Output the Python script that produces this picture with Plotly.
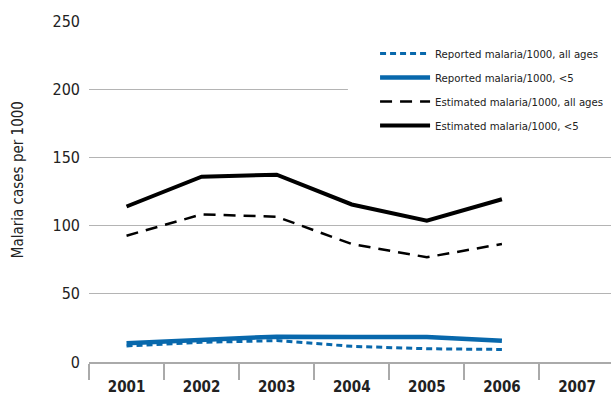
import plotly.graph_objects as go

years = ["2001", "2002", "2003", "2004", "2005", "2006", "2007"]
rep_all = [11.8, 14.4, 15.7, 11.5, 9.7, 9.2]
rep_u5 = [13.8, 16.5, 18.6, 18.4, 18.4, 15.6]
est_all = [92.6, 108.2, 106.5, 86.5, 76.8, 86.5]
est_u5 = [114.0, 135.9, 137.3, 115.5, 103.6, 119.3]
y_ticks = [0, 50, 100, 150, 200, 250]

FONT = "DejaVu Sans Condensed, DejaVu Sans, sans-serif"
BLUE = "#0868ac"

fig = go.Figure()

fig.add_trace(go.Scatter(x=years[:6], y=rep_all, mode="lines", legendgroup="a",
                         name="Reported malaria/1000, all ages",
                         line=dict(color=BLUE, width=3, dash="6px,4px")))
fig.add_trace(go.Scatter(x=years[:6], y=rep_u5, mode="lines", legendgroup="b",
                         name="Reported malaria/1000, &lt;5",
                         line=dict(color=BLUE, width=4.5)))
fig.add_trace(go.Scatter(x=years[:6], y=est_all, mode="lines", legendgroup="c",
                         name="Estimated malaria/1000, all ages",
                         line=dict(color="black", width=2.5, dash="12px,8px")))
fig.add_trace(go.Scatter(x=years[:6], y=est_u5, mode="lines", legendgroup="d",
                         name="Estimated malaria/1000, &lt;5",
                         line=dict(color="black", width=4)))

# white patch behind the legend hides the 200 gridline
fig.add_shape(type="rect", xref="paper", yref="y", x0=0.496, x1=1.01, y0=170, y1=238,
              fillcolor="white", line=dict(width=0), layer="above")

fig.add_annotation(text="Malaria cases per 1000", textangle=-90, showarrow=False,
                   xref="paper", yref="paper", x=0, y=0.533, xanchor="center",
                   yanchor="middle", xshift=-71,
                   font=dict(family=FONT, size=15, color="#222"))

fig.update_layout(
    width=611, height=396,
    margin=dict(l=89, r=0, t=21, b=32),
    paper_bgcolor="white", plot_bgcolor="white",
    font=dict(family=FONT, size=15, color="#222"),
    showlegend=True,
    legend=dict(x=0.548, y=0.947, xanchor="left", yanchor="top",
                bgcolor="rgba(0,0,0,0)",
                font=dict(family=FONT, size=11.3, color="#222"),
                itemwidth=50, tracegroupgap=5),
)

fig.update_xaxes(
    type="category", categoryorder="array", categoryarray=years,
    range=[-0.5, 6.453], tickson="boundaries", ticks="outside", ticklen=16,
    tickcolor="#aaa", tickwidth=1.5, showgrid=False,
    showline=True, linecolor="#aaa", linewidth=1.5, ticklabelstandoff=10,
    tickfont=dict(family=FONT, size=15, color="#222", weight="bold"),
)
fig.update_yaxes(
    range=[0, 250], tickvals=y_ticks, showgrid=True, gridcolor="#b4b4b4", gridwidth=1,
    zeroline=False, showline=False, ticks="", ticklabelstandoff=8,
    tickfont=dict(family=FONT, size=16, color="#222"),
)

# drop the default 8px body margin so the figure fills the window exactly
fig.write_html("out.html", config={"displayModeBar": False},
               post_script="document.body.style.margin='0';")
